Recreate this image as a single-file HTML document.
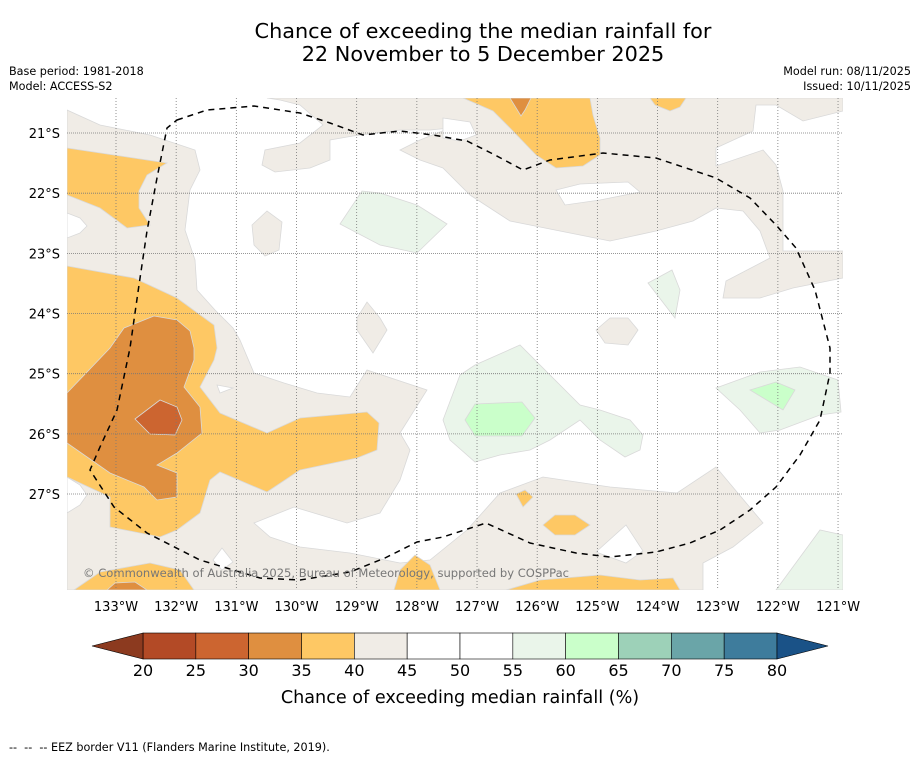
<!DOCTYPE html>
<html><head><meta charset="utf-8">
<style>
html,body{margin:0;padding:0;background:#fff;}
body{width:919px;height:758px;overflow:hidden;font-family:"Liberation Sans","DejaVu Sans",sans-serif;}
svg text{font-family:"DejaVu Sans","Liberation Sans",sans-serif;}
</style></head>
<body>
<svg id="chart" width="919" height="758" viewBox="0 0 919 758" xmlns="http://www.w3.org/2000/svg">
<text x="483" y="38" font-size="20.8" text-anchor="middle" fill="#000">Chance of exceeding the median rainfall for</text>
<text x="483" y="61" font-size="20.8" text-anchor="middle" fill="#000">22 November to 5 December 2025</text>
<text x="9" y="75" font-size="11.2">Base period: 1981-2018</text>
<text x="9" y="90" font-size="11.2">Model: ACCESS-S2</text>
<text x="911" y="75" font-size="11.2" text-anchor="end">Model run: 08/11/2025</text>
<text x="911" y="90" font-size="11.2" text-anchor="end">Issued: 10/11/2025</text>
<defs><clipPath id="mapclip"><rect x="67" y="98" width="776" height="492"/></clipPath></defs>
<g id="map" clip-path="url(#mapclip)"></g>
<g id="axes"></g>
<g id="cbar"></g>
<text x="460" y="703" font-size="17.6" text-anchor="middle">Chance of exceeding median rainfall (%)</text>
<text x="9" y="751" font-size="11.2" xml:space="preserve">--  --  -- EEZ border V11 (Flanders Marine Institute, 2019).</text>
</svg>
<script>
const lonTicks=[133,132,131,130,129,128,127,126,125,124,123,122,121];
const latTicks=[21,22,23,24,25,26,27];
const cbLevels=[20,25,30,35,40,45,50,55,60,65,70,75,80];
const cbColors=["#b34a26","#cc6530","#df8f40","#fec864","#f0ece6","#ffffff","#ffffff","#eaf5ea","#caffca","#9dd1b8","#6aa5a8","#3e7c9c"];
const cbLow="#8c3a1f", cbHigh="#1a5287";
const beige=[
 [[67,110],[100,125],[150,135],[195,150],[200,170],[190,190],[185,230],[195,260],[197,290],[215,310],[233,328],[240,340],[254,373],[284,383],[317,393],[350,397],[367,370],[427,390],[400,433],[410,450],[400,480],[380,513],[347,523],[294,507],[254,523],[270,537],[300,547],[350,553],[400,563],[430,560],[467,530],[500,493],[543,477],[610,487],[677,493],[716,467],[763,523],[733,547],[703,563],[703,590],[67,590]],
 [[267,98],[843,98],[843,111],[803,121],[776,105],[756,105],[753,131],[716,148],[716,166],[763,150],[776,165],[783,191],[783,251],[843,251],[843,278],[793,288],[760,298],[723,298],[726,281],[770,258],[760,231],[743,211],[716,208],[693,221],[656,231],[610,241],[510,221],[470,195],[443,168],[420,160],[400,150],[420,140],[450,128],[430,130],[400,130],[353,136],[330,140],[330,160],[310,168],[275,172],[262,165],[265,150],[300,143],[323,125],[300,105],[280,100]],
 [[252,225],[267,211],[282,222],[279,250],[265,256],[254,245]],
 [[357,318],[367,302],[380,318],[387,330],[373,353],[357,330]],
 [[596,330],[610,318],[628,318],[638,330],[628,345],[605,343]]
];
const whites=[
 [[67,213],[80,218],[87,226],[80,233],[67,238]],
 [[67,477],[80,485],[87,495],[80,505],[67,513]],
 [[217,385],[233,388],[220,393]],
 [[556,190],[580,184],[628,182],[640,192],[600,200],[565,205]],
 [[443,118],[470,122],[476,135],[460,141],[443,138]],
 [[213,560],[222,548],[233,562],[222,570]],
 [[596,552],[626,525],[643,551],[626,563]]
];
const lightGreen=[
 [[340,224],[362,191],[380,193],[417,205],[447,224],[417,253],[380,245]],
 [[648,283],[672,270],[680,290],[675,318]],
 [[443,420],[460,375],[475,365],[520,345],[560,385],[580,405],[600,410],[630,420],[643,435],[640,450],[625,457],[600,440],[580,420],[550,440],[530,450],[500,455],[475,462],[450,440]],
 [[716,388],[760,372],[800,367],[838,380],[841,412],[820,415],[780,430],[760,433],[740,410]],
 [[776,590],[820,530],[843,535],[843,590]]
];
const brightGreen=[
 [[465,420],[475,404],[522,402],[535,418],[522,436],[475,436]],
 [[750,390],[776,382],[795,390],[783,410]]
];
const orange=[
 [[67,148],[167,163],[147,175],[139,191],[139,208],[150,225],[127,228],[100,208],[67,195]],
 [[67,266],[134,278],[177,298],[214,325],[217,348],[214,360],[200,387],[220,413],[267,433],[300,418],[367,412],[379,423],[377,450],[357,458],[300,470],[267,492],[220,472],[210,480],[200,513],[177,530],[160,537],[110,527],[110,497],[67,477]],
 [[463,98],[590,98],[593,115],[600,138],[600,155],[583,166],[556,168],[536,155],[510,128],[493,111]],
 [[650,98],[686,98],[680,107],[670,111],[655,105]],
 [[516,494],[525,490],[533,497],[523,507]],
 [[543,525],[555,515],[575,515],[590,525],[575,535],[555,535]],
 [[506,590],[540,580],[600,575],[640,580],[673,578],[680,590]],
 [[394,590],[400,570],[415,555],[430,565],[440,590]],
 [[74,590],[100,572],[150,563],[180,570],[194,590]]
];
const darkOrange=[
 [[67,393],[110,348],[124,328],[154,316],[177,320],[190,331],[194,348],[194,360],[184,387],[200,407],[202,433],[177,453],[157,465],[177,473],[177,497],[157,500],[144,487],[110,473],[67,443]],
 [[510,98],[531,98],[525,110],[521,116]],
 [[107,590],[115,583],[135,582],[147,590]]
];
const red=[
 [[135,419],[160,400],[177,407],[182,420],[175,435],[150,434]]
];
const eez=[[177,120],[207,110],[254,106],[300,113],[330,123],[363,135],[400,131],[433,135],[467,141],[495,155],[523,170],[550,160],[603,153],[656,158],[716,178],[750,198],[776,225],[796,248],[815,290],[830,348],[830,373],[820,420],[800,455],[776,487],[750,510],[720,530],[690,543],[656,552],[610,557],[576,553],[530,543],[486,523],[443,537],[417,542],[385,558],[350,572],[300,580],[260,578],[200,560],[147,533],[114,507],[90,470],[100,447],[117,410],[130,348],[139,285],[147,231],[157,178],[167,128],[177,120]];

const NS="http://www.w3.org/2000/svg";
const X0=116, DX=60.17, Y0=133, DY=60.17;
function xScale(lonW){return X0+(133-lonW)*DX;}
function yScale(latS){return Y0+(latS-21)*DY;}
function mk(tag,attrs,parent){const e=document.createElementNS(NS,tag);for(const k in attrs)e.setAttribute(k,attrs[k]);parent.appendChild(e);return e;}
const map=document.getElementById('map');
function drawPolys(list,fill,name){list.forEach(p=>{const e=mk('polygon',{points:p.map(q=>q.join(',')).join(' '),fill:fill,stroke:'#d9d9d9','stroke-width':0.8},map);

});}
mk('rect',{x:67,y:98,width:776,height:492,fill:'#fff'},map);
drawPolys(beige,'#f0ece6','region-40-45');
drawPolys(whites,'#ffffff','region-45-55');
drawPolys(lightGreen,'#eaf5ea','region-55-60');
drawPolys(brightGreen,'#caffca','region-60-65');
drawPolys(orange,'#fec864','region-35-40');
drawPolys(darkOrange,'#df8f40','region-30-35');
drawPolys(red,'#cc6530','region-25-30');
lonTicks.forEach(l=>{const x=xScale(l);const e=mk('line',{x1:x,x2:x,y1:98,y2:590,stroke:'#777','stroke-width':0.8,'stroke-dasharray':'1,2'},map);

});
latTicks.forEach(l=>{const y=yScale(l);const e=mk('line',{x1:67,x2:843,y1:y,y2:y,stroke:'#777','stroke-width':0.8,'stroke-dasharray':'1,1'},map);

});
const ez=mk('polyline',{points:eez.map(q=>q.join(',')).join(' '),fill:'none',stroke:'#000','stroke-width':1.5,'stroke-dasharray':'6,5'},map);


const cp=mk('text',{x:83,y:577,'font-size':11.6,fill:'#777',textLength:486,lengthAdjust:'spacingAndGlyphs'},map);
cp.textContent='© Commonwealth of Australia 2025, Bureau of Meteorology, supported by COSPPac';


const axes=document.getElementById('axes');
lonTicks.forEach(l=>{const t=mk('text',{x:xScale(l),y:611,'font-size':13,'text-anchor':'middle'},axes);t.textContent=l+'°W';

});
latTicks.forEach(l=>{const t=mk('text',{x:60,y:yScale(l)+5,'font-size':13,'text-anchor':'end'},axes);t.textContent=l+'°S';

});
const cb=document.getElementById('cbar');
const C0=143,C1=777,CY=633,CH=26;
function cx(v){return C0+(v-20)/60*(C1-C0);}
for(let i=0;i<cbColors.length;i++){const r=mk('rect',{x:cx(cbLevels[i]),y:CY,width:cx(cbLevels[i+1])-cx(cbLevels[i]),height:CH,fill:cbColors[i],stroke:'#000','stroke-width':0.6},cb);

}
const lt=mk('polygon',{points:`${C0},${CY} 92,${CY+CH/2} ${C0},${CY+CH}`,fill:cbLow,stroke:'#000','stroke-width':0.6},cb);


const rt=mk('polygon',{points:`${C1},${CY} 828,${CY+CH/2} ${C1},${CY+CH}`,fill:cbHigh,stroke:'#000','stroke-width':0.6},cb);


cbLevels.forEach(v=>{const t=mk('text',{x:cx(v),y:676,'font-size':16,'text-anchor':'middle'},cb);t.textContent=v;

});
</script>
</body></html>
